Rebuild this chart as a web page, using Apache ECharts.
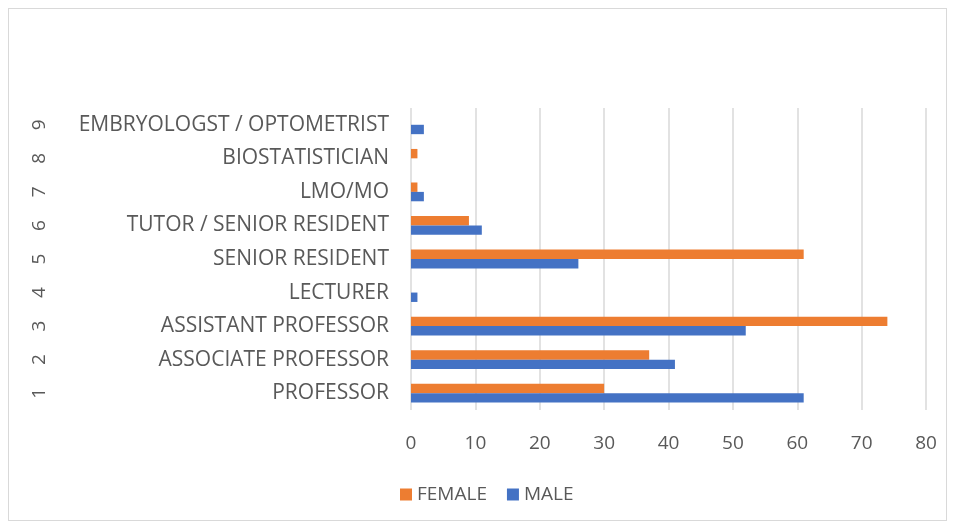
<!DOCTYPE html>
<html><head><meta charset="utf-8">
<script src="https://cdn.jsdelivr.net/npm/echarts@6/dist/echarts.min.js"></script>
<style>
html,body{margin:0;padding:0;background:#fff;}
#frame{position:absolute;left:8px;top:8px;width:939px;height:513px;border:1px solid #d9d9d9;box-sizing:border-box;}
#c{position:absolute;left:0;top:0;width:956px;height:530px;}
</style></head>
<body><div id="frame"></div><div id="c"></div>
<script>
const categories = ['PROFESSOR','ASSOCIATE PROFESSOR','ASSISTANT PROFESSOR','LECTURER','SENIOR RESIDENT','TUTOR / SENIOR RESIDENT','LMO/MO','BIOSTATISTICIAN','EMBRYOLOGST / OPTOMETRIST'];
const indexLabels = ['1','2','3','4','5','6','7','8','9'];
const female = [30,37,74,0,61,9,1,1,0];
const male = [61,41,52,1,26,11,2,0,2];
const xTicks = {min:0,max:80,interval:10};

const font = 'Open Sans';
const chart = echarts.init(document.getElementById('c'));
chart.setOption({
  animation:false,
  textStyle:{fontFamily:font},
  legend:{bottom:21,left:395,icon:'rect',itemWidth:12,itemHeight:12,itemGap:20,
    textStyle:{fontSize:19,color:'#595959',fontFamily:font},
    data:['FEMALE','MALE']},
  grid:{left:411,right:30,top:108,bottom:120,containLabel:false},
  xAxis:{type:'value',min:xTicks.min,max:xTicks.max,interval:xTicks.interval,
    axisLabel:{fontSize:19,color:'#595959',margin:24,fontFamily:font},
    splitLine:{lineStyle:{color:'#d9d9d9',width:1.5}},
    axisLine:{show:false},axisTick:{show:false}},
  yAxis:[
    {type:'category',data:categories,position:'left',
      axisLabel:{fontSize:21,color:'#595959',margin:22,fontFamily:font},
      axisLine:{show:false},axisTick:{show:false}},
    {type:'category',data:indexLabels,position:'left',offset:371,
      axisLabel:{fontSize:19,color:'#595959',rotate:90,margin:0,fontFamily:font,align:'center',verticalAlign:'middle'},
      axisLine:{show:false},axisTick:{show:false}}
  ],
  series:[
    {name:'FEMALE',type:'bar',data:female,yAxisIndex:0,barGap:'0%',barCategoryGap:'44%',itemStyle:{color:'#ED7D31'}},
    {name:'MALE',type:'bar',data:male,yAxisIndex:0,barGap:'0%',barCategoryGap:'44%',itemStyle:{color:'#4472C4'}}
  ]
});
</script></body></html>
